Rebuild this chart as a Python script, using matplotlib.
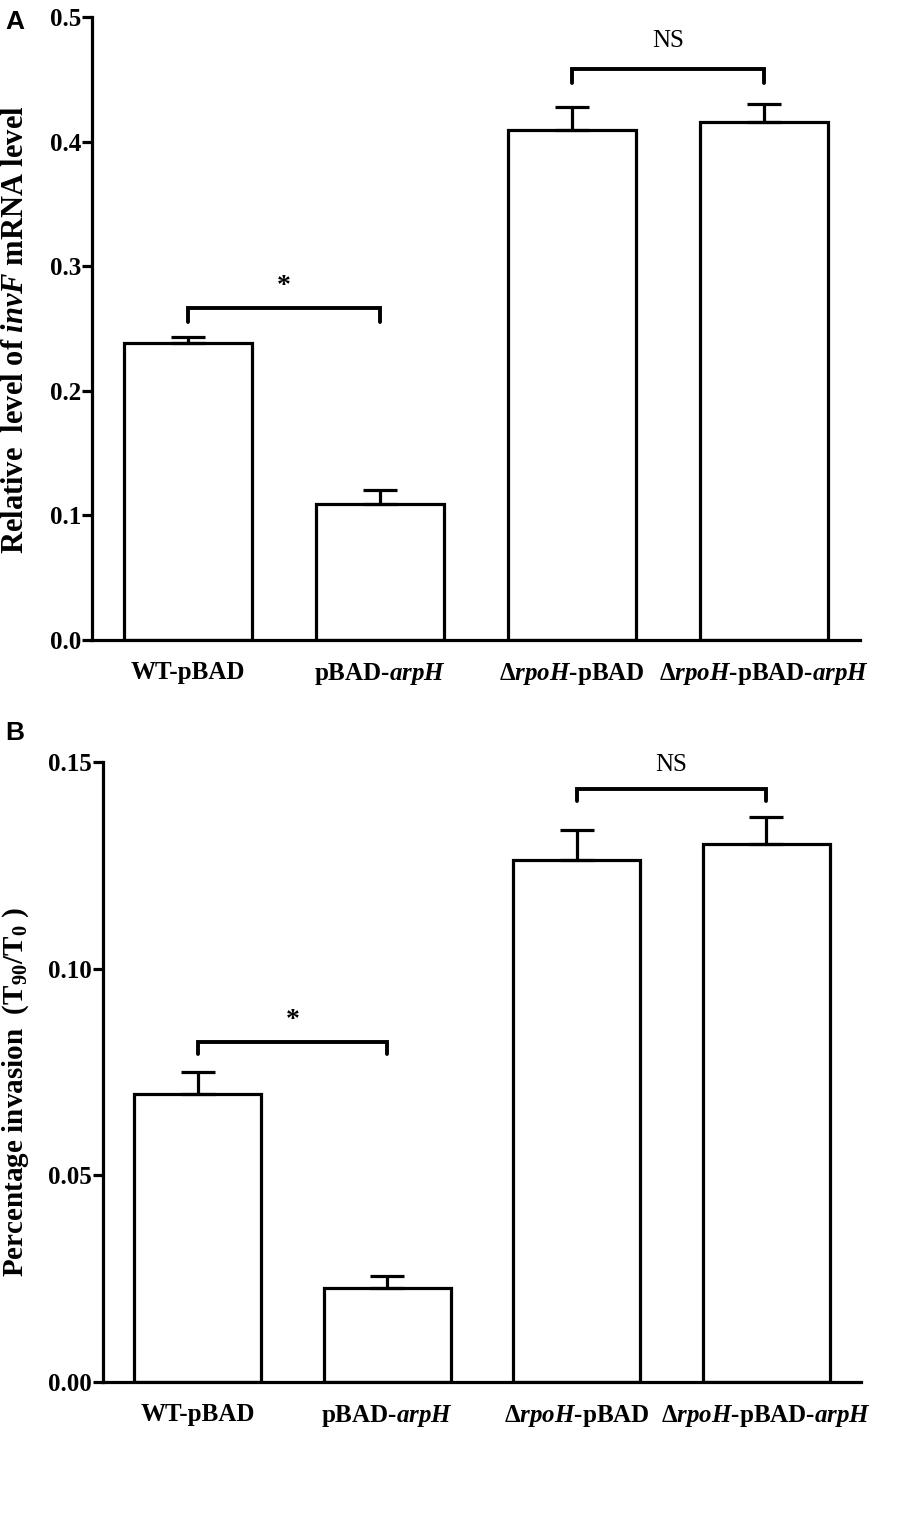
import numpy as np
import matplotlib
matplotlib.use("Agg")
import matplotlib.pyplot as plt

plt.rcParams['font.family'] = ['Liberation Serif', 'DejaVu Serif']
plt.rcParams['font.weight'] = 'bold'
plt.rcParams['mathtext.fontset'] = 'custom'
plt.rcParams['mathtext.rm'] = 'Liberation Serif:bold'
plt.rcParams['mathtext.it'] = 'Liberation Serif:italic:bold'
plt.rcParams['mathtext.bf'] = 'Liberation Serif:bold'

# data
strains = ["WT-pBAD", "pBAD-$\\mathit{arpH}$", "Δ$\\mathit{rpoH}$-pBAD", "Δ$\\mathit{rpoH}$-pBAD-$\\mathit{arpH}$"]
mrna_level = [0.238, 0.109, 0.409, 0.416]
mrna_err = [0.005, 0.011, 0.019, 0.014]
invasion = [0.0697, 0.0227, 0.1263, 0.1302]
invasion_err = [0.0053, 0.003, 0.0072, 0.0064]

# significance brackets: (left bar, right bar, bracket height, label, label height)
sig_a = [(0, 1, 0.2665, "*", 0.2835), (2, 3, 0.458, "NS", 0.4805)]
sig_b = [(0, 1, 0.0823, "*", 0.0875), (2, 3, 0.1435, "NS", 0.1493)]

LW = 2.3


def draw_panel(ax, vals, errs, ymax, yticks, ticklabels, sigs, drop):
    x = np.arange(len(vals))
    ax.bar(x, vals, width=0.67, color="white", edgecolor="black", linewidth=LW, zorder=2)
    ax.errorbar(x, vals, yerr=[np.zeros(len(errs)), errs], fmt="none", ecolor="black",
                elinewidth=LW, capsize=12.5, capthick=LW, zorder=3)
    for i, j, h, lab, ty in sigs:
        ax.plot([i, i, j, j], [h - drop, h, h, h - drop], color="black", lw=2.8,
                solid_capstyle="round", solid_joinstyle="miter", clip_on=False)
        if lab == "*":
            ax.text((i + j) / 2, ty, lab, ha="center", va="center",
                    fontsize=20, fontweight="bold")
        else:
            ax.text((i + j) / 2, ty, lab, ha="center", va="center",
                    fontsize=18, fontweight="normal")
    ax.set_xlim(-0.5, 3.5)
    ax.set_ylim(0, ymax)
    ax.set_yticks(yticks)
    ax.set_yticklabels(ticklabels)
    ax.set_xticks(x)
    ax.set_xticklabels(strains)
    ax.spines["top"].set_visible(False)
    ax.spines["right"].set_visible(False)
    ax.spines["left"].set_linewidth(LW)
    ax.spines["bottom"].set_linewidth(LW)
    ax.tick_params(axis="y", direction="out", length=7, width=LW, pad=1, labelsize=18)
    ax.tick_params(axis="x", length=0, pad=15, labelsize=18)
    for t in ax.get_xticklabels() + ax.get_yticklabels():
        t.set_fontweight("bold")


fig = plt.figure(figsize=(9, 15.24), dpi=100)
axA = fig.add_axes([92 / 900, 1 - 640 / 1524, (860 - 92) / 900, 623 / 1524])
axB = fig.add_axes([103 / 900, 1 - 1382 / 1524, (861 - 103) / 900, 620 / 1524])

draw_panel(axA, mrna_level, mrna_err, 0.5, [0, 0.1, 0.2, 0.3, 0.4, 0.5],
           ["0.0", "0.1", "0.2", "0.3", "0.4", "0.5"], sig_a, 0.011)
draw_panel(axB, invasion, invasion_err, 0.15, [0, 0.05, 0.10, 0.15],
           ["0.00", "0.05", "0.10", "0.15"], sig_b, 0.003)

fig.text(16 / 900, 1 - 330 / 1524, "Relative  level of $\\mathit{invF}$ mRNA level",
         rotation=90, ha="center", va="center", fontsize=22, fontweight="bold")
fig.text(16 / 900, 1 - 1092 / 1524, "Percentage invasion  (T$_{90}$/T$_{0}$ )",
         rotation=90, ha="center", va="center", fontsize=21, fontweight="bold")

fig.text(5 / 900, 1 - 22 / 1524, "A", ha="left", va="center", fontsize=19,
         fontweight="bold", family="Liberation Sans")
fig.text(5 / 900, 1 - 733 / 1524, "B", ha="left", va="center", fontsize=19,
         fontweight="bold", family="Liberation Sans")

fig.savefig("out.png", dpi=100)
